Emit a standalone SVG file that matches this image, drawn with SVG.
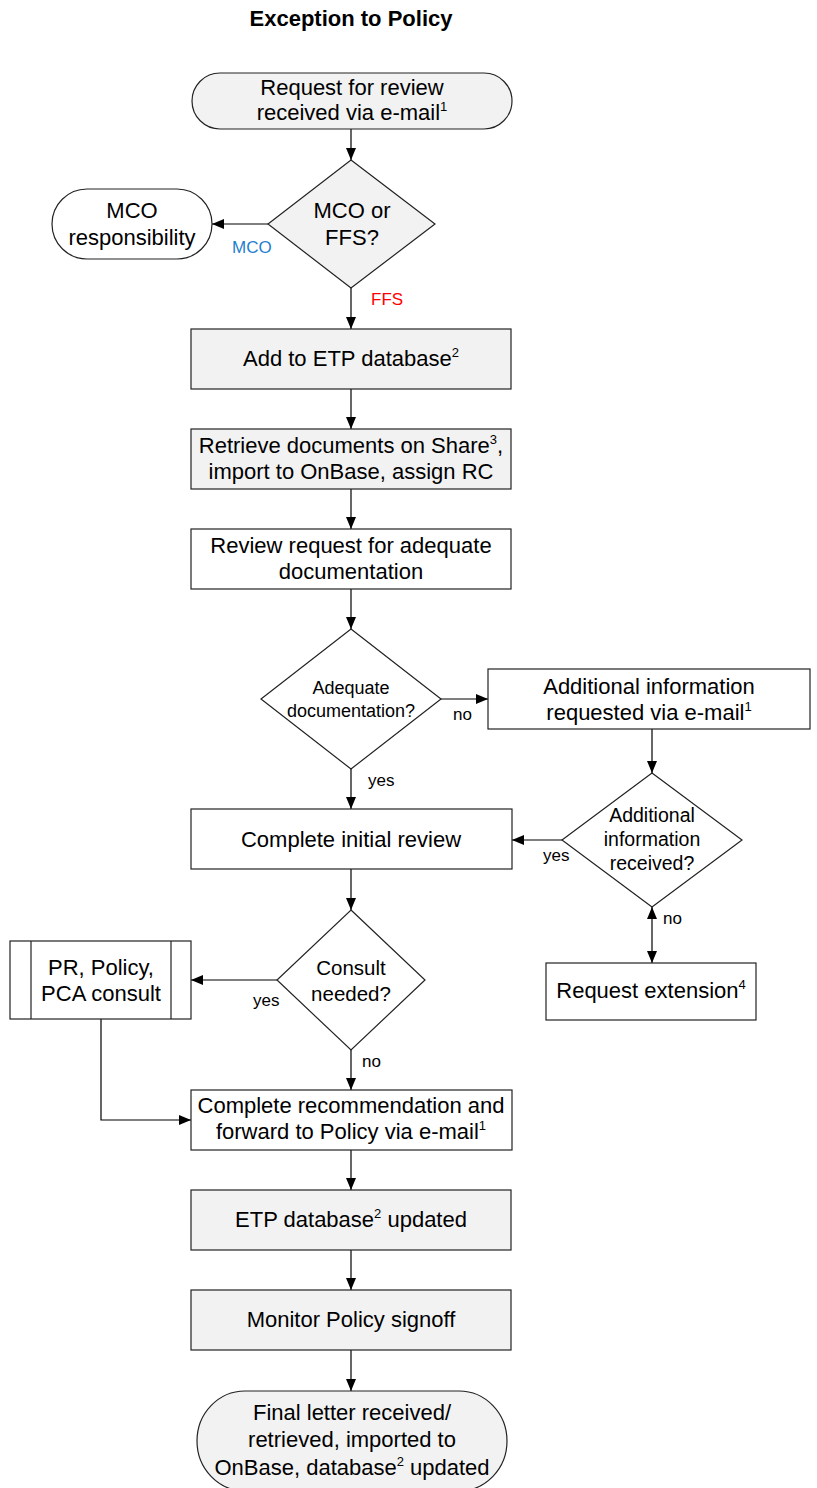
<svg xmlns="http://www.w3.org/2000/svg" width="817" height="1488" viewBox="0 0 817 1488">
  <defs>
    <marker id="arrow" markerUnits="userSpaceOnUse" markerWidth="12" markerHeight="10" refX="12" refY="5" orient="auto-start-reverse">
      <path d="M0,0 L12,5 L0,10 z" fill="#000"/>
    </marker>
    <style>
      text { font-family: "Liberation Sans", Arial, sans-serif; fill: #000; }
      .title { font-size: 22px; font-weight: bold; text-anchor: middle; }
      .t { font-size: 22px; text-anchor: middle; }
      .d18 { font-size: 18px; text-anchor: middle; }
      .d19 { font-size: 19.5px; text-anchor: middle; }
      .d20 { font-size: 20.5px; text-anchor: middle; }
      .lbl { font-size: 17px; }
      .sup { font-size: 13px; }
      .shape { stroke: #222; stroke-width: 1.2; }
      .gray { fill: #f2f2f2; }
      .white { fill: #fff; }
      .conn { fill: none; stroke: #000; stroke-width: 1.2; }
    </style>
  </defs>

  <rect width="817" height="1488" fill="#fff"/>

  <text class="title" x="351" y="26">Exception to Policy</text>

  <!-- connectors -->
  <g id="connectors">
    <path class="conn" d="M351,129 V160" marker-end="url(#arrow)"/>
    <path class="conn" d="M268,224 H212" marker-end="url(#arrow)"/>
    <path class="conn" d="M351,288 V329" marker-end="url(#arrow)"/>
    <path class="conn" d="M351,389 V429" marker-end="url(#arrow)"/>
    <path class="conn" d="M351,489 V529" marker-end="url(#arrow)"/>
    <path class="conn" d="M351,589 V629" marker-end="url(#arrow)"/>
    <path class="conn" d="M441,699 H488" marker-end="url(#arrow)"/>
    <path class="conn" d="M652,729 V773" marker-end="url(#arrow)"/>
    <path class="conn" d="M351,769 V809" marker-end="url(#arrow)"/>
    <path class="conn" d="M562,840 H512" marker-end="url(#arrow)"/>
    <path class="conn" d="M652,907 V963" marker-start="url(#arrow)" marker-end="url(#arrow)"/>
    <path class="conn" d="M351,869 V910" marker-end="url(#arrow)"/>
    <path class="conn" d="M277,980 H191" marker-end="url(#arrow)"/>
    <path class="conn" d="M351,1050 V1090" marker-end="url(#arrow)"/>
    <path class="conn" d="M101,1019 V1120 H191" marker-end="url(#arrow)"/>
    <path class="conn" d="M351,1150 V1190" marker-end="url(#arrow)"/>
    <path class="conn" d="M351,1250 V1290" marker-end="url(#arrow)"/>
    <path class="conn" d="M351,1350 V1391" marker-end="url(#arrow)"/>

    <text class="lbl" x="232" y="253" style="fill:#1f7fcf">MCO</text>
    <text class="lbl" x="371" y="305" style="fill:#ff0000">FFS</text>
    <text class="lbl" x="453" y="720">no</text>
    <text class="lbl" x="368" y="786">yes</text>
    <text class="lbl" x="543" y="861">yes</text>
    <text class="lbl" x="663" y="924">no</text>
    <text class="lbl" x="253" y="1006">yes</text>
    <text class="lbl" x="362" y="1067">no</text>
  </g>

  <g id="start">
    <rect class="shape gray" x="192" y="73" width="320" height="56" rx="28" ry="28"/>
    <text class="t" x="352" y="95">Request for review</text>
    <text class="t" x="352" y="120">received via e-mail<tspan class="sup" dy="-9">1</tspan></text>
  </g>

  <g id="mco-or-ffs">
    <polygon class="shape gray" points="351,160 435,224 351,288 268,224"/>
    <text class="t" x="352" y="218">MCO or</text>
    <text class="t" x="352" y="245">FFS?</text>
  </g>

  <g id="mco-responsibility">
    <rect class="shape white" x="52" y="189" width="160" height="70" rx="35" ry="35"/>
    <text class="t" x="132" y="218">MCO</text>
    <text class="t" x="132" y="245">responsibility</text>
  </g>

  <g id="add-etp">
    <rect class="shape gray" x="191" y="329" width="320" height="60"/>
    <text class="t" x="351" y="366">Add to ETP database<tspan class="sup" dy="-9">2</tspan></text>
  </g>

  <g id="retrieve-docs">
    <rect class="shape gray" x="191" y="429" width="320" height="60"/>
    <text class="t" x="351" y="453">Retrieve documents on Share<tspan class="sup" dy="-9">3</tspan><tspan dy="9">,</tspan></text>
    <text class="t" x="351" y="479">import to OnBase, assign RC</text>
  </g>

  <g id="review-request">
    <rect class="shape white" x="191" y="529" width="320" height="60"/>
    <text class="t" x="351" y="553">Review request for adequate</text>
    <text class="t" x="351" y="579">documentation</text>
  </g>

  <g id="adequate-doc">
    <polygon class="shape white" points="351,629 441,699 351,769 261,699"/>
    <text class="d18" x="351" y="694">Adequate</text>
    <text class="d18" x="351" y="717">documentation?</text>
  </g>

  <g id="additional-requested">
    <rect class="shape white" x="488" y="669" width="322" height="60"/>
    <text class="t" x="649" y="694">Additional information</text>
    <text class="t" x="649" y="720">requested via e-mail<tspan class="sup" dy="-9">1</tspan></text>
  </g>

  <g id="additional-received">
    <polygon class="shape white" points="652,773 742,840 652,907 562,840"/>
    <text class="d19" x="652" y="822">Additional</text>
    <text class="d19" x="652" y="846">information</text>
    <text class="d19" x="652" y="870">received?</text>
  </g>

  <g id="initial-review">
    <rect class="shape white" x="191" y="809" width="321" height="60"/>
    <text class="t" x="351" y="847">Complete initial review</text>
  </g>

  <g id="request-extension">
    <rect class="shape white" x="546" y="963" width="210" height="57"/>
    <text class="t" x="651" y="998">Request extension<tspan class="sup" dy="-9">4</tspan></text>
  </g>

  <g id="consult-needed">
    <polygon class="shape white" points="351,910 425,980 351,1050 277,980"/>
    <text class="d20" x="351" y="975">Consult</text>
    <text class="d20" x="351" y="1001">needed?</text>
  </g>

  <g id="pr-policy-consult">
    <rect class="shape white" x="10" y="941" width="181" height="78"/>
    <path class="shape" d="M31,941 V1019 M171,941 V1019" fill="none"/>
    <text class="t" x="101" y="975">PR, Policy,</text>
    <text class="t" x="101" y="1001">PCA consult</text>
  </g>

  <g id="complete-recommendation">
    <rect class="shape white" x="191" y="1090" width="321" height="60"/>
    <text class="t" x="351" y="1113">Complete recommendation and</text>
    <text class="t" x="351" y="1139">forward to Policy via e-mail<tspan class="sup" dy="-9">1</tspan></text>
  </g>

  <g id="etp-updated">
    <rect class="shape gray" x="191" y="1190" width="320" height="60"/>
    <text class="t" x="351" y="1227">ETP database<tspan class="sup" dy="-9">2</tspan><tspan dy="9"> updated</tspan></text>
  </g>

  <g id="monitor-signoff">
    <rect class="shape gray" x="191" y="1290" width="320" height="60"/>
    <text class="t" x="351" y="1327">Monitor Policy signoff</text>
  </g>

  <g id="final-letter">
    <rect class="shape gray" x="197" y="1391" width="310" height="100" rx="48" ry="50"/>
    <text class="t" x="352" y="1420">Final letter received/</text>
    <text class="t" x="352" y="1447">retrieved, imported to</text>
    <text class="t" x="352" y="1475">OnBase, database<tspan class="sup" dy="-9">2</tspan><tspan dy="9"> updated</tspan></text>
  </g>
</svg>
